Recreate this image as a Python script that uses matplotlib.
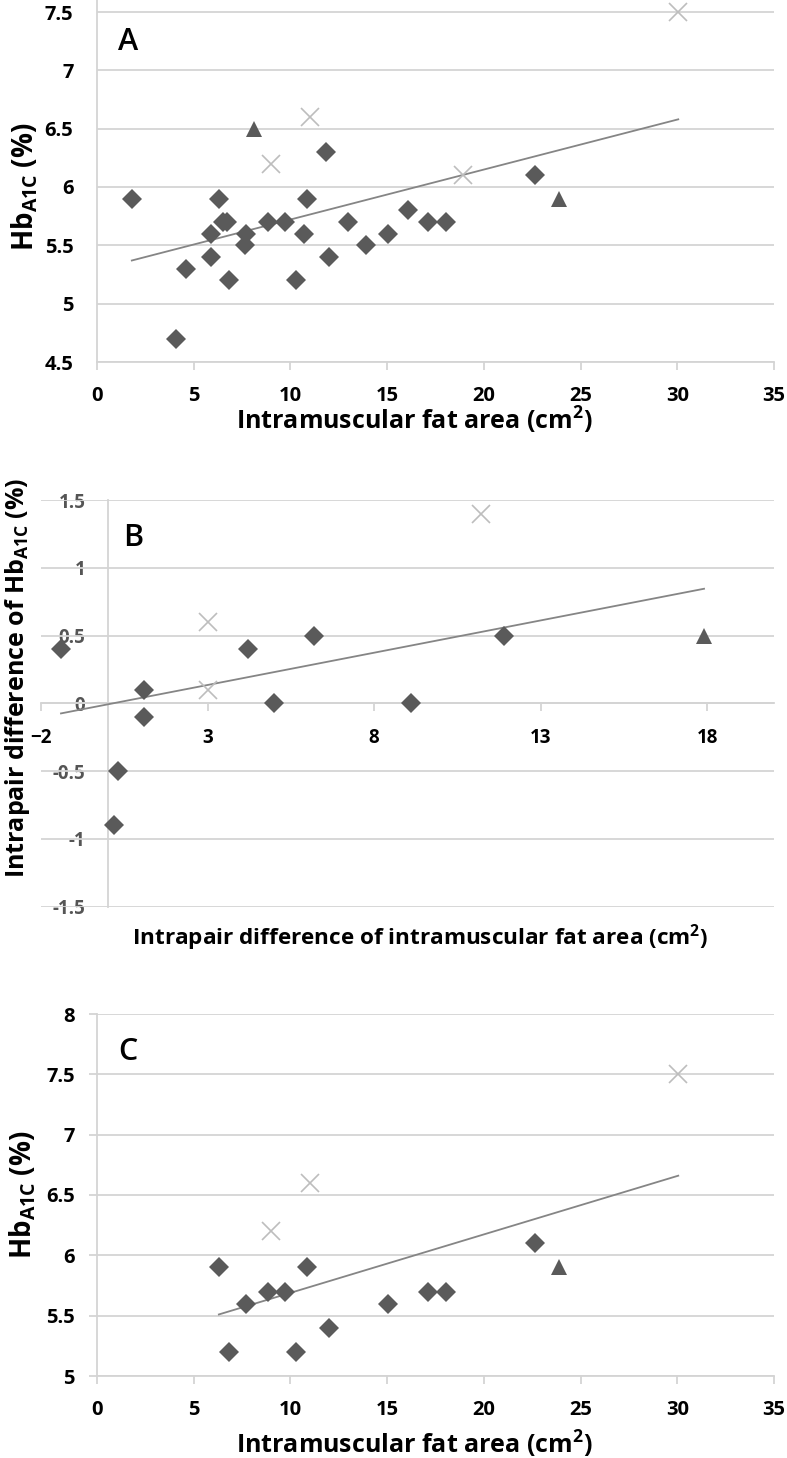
import numpy as np
import matplotlib
matplotlib.use('Agg')
import matplotlib.pyplot as plt

plt.rcParams['font.family'] = ['Open Sans', 'DejaVu Sans']
plt.rcParams['font.weight'] = 'bold'
plt.rcParams['axes.labelweight'] = 'bold'

# ---------------- data ----------------
# Panel A
a_dia_x = [1.8, 4.1, 4.6, 5.9, 5.9, 6.3, 6.5, 6.7, 6.8, 7.7, 7.65, 8.85, 9.7, 10.3, 10.7,
           10.85, 11.85, 12.0, 13.0, 13.9, 15.05, 16.1, 17.1, 18.05, 22.65]
a_dia_y = [5.9, 4.7, 5.3, 5.6, 5.4, 5.9, 5.7, 5.7, 5.2, 5.6, 5.5, 5.7, 5.7, 5.2, 5.6,
           5.9, 6.3, 5.4, 5.7, 5.5, 5.6, 5.8, 5.7, 5.7, 6.1]
a_tri_x = [8.1, 23.9]
a_tri_y = [6.5, 5.9]
a_crs_x = [9.0, 11.0, 18.9, 30.05]
a_crs_y = [6.2, 6.6, 6.1, 7.5]
a_trend_x = [1.8, 30.05]
a_trend_y = [5.37, 6.58]

# Panel B
b_dia_x = [-1.4, 0.2, 0.3, 1.1, 1.1, 4.2, 5.0, 6.2, 9.1, 11.9]
b_dia_y = [0.4, -0.9, -0.5, 0.1, -0.1, 0.4, 0.0, 0.5, 0.0, 0.5]
b_tri_x = [17.9]
b_tri_y = [0.5]
b_crs_x = [3.0, 3.0, 11.2]
b_crs_y = [0.6, 0.1, 1.4]
b_trend_x = [-1.4, 17.9]
b_trend_y = [-0.075, 0.845]

# Panel C
c_dia_x = [6.3, 6.8, 7.7, 8.85, 9.7, 10.3, 10.85, 12.0, 15.05, 17.1, 18.05, 22.65]
c_dia_y = [5.9, 5.2, 5.6, 5.7, 5.7, 5.2, 5.9, 5.4, 5.6, 5.7, 5.7, 6.1]
c_tri_x = [23.9]
c_tri_y = [5.9]
c_crs_x = [9.0, 11.0, 30.05]
c_crs_y = [6.2, 6.6, 7.5]
c_trend_x = [6.3, 30.05]
c_trend_y = [5.51, 6.66]

ac_xticks = [0, 5, 10, 15, 20, 25, 30, 35]
a_yticks = [4.5, 5, 5.5, 6, 6.5, 7, 7.5]
a_yticklabels = ['4.5', '5', '5.5', '6', '6.5', '7', '7.5']
c_yticks = [5, 5.5, 6, 6.5, 7, 7.5, 8]
c_yticklabels = ['5', '5.5', '6', '6.5', '7', '7.5', '8']
b_xticks = [-2, 3, 8, 13, 18]
b_yticks = [-1.5, -1, -0.5, 0, 0.5, 1, 1.5]
b_yticklabels = ['-1.5', '-1', '-0.5', '0', '0.5', '1', '1.5']

# ---------------- style ----------------
DARK = '#5a5a5a'
LIGHT = '#bdbdbd'
GRID = '#d4d4d4'
TREND = '#858585'
TICKFS = 14.5
XLABFS = 18
YLABFS = 20

W, H = 787, 1458
fig = plt.figure(figsize=(W / 100, H / 100), dpi=100)


def px_axes(left, top, right, bottom):
    return fig.add_axes([left / W, 1 - bottom / H, (right - left) / W, (bottom - top) / H])


def draw_points(ax, dx, dy, tx, ty, cx, cy, lx, ly):
    ax.plot(dx, dy, linestyle='none', marker='D', ms=10, color=DARK, mew=0, zorder=4)
    ax.plot(tx, ty, linestyle='none', marker='^', ms=11, color=DARK, mew=0, zorder=4)
    ax.plot(cx, cy, linestyle='none', marker='x', ms=12.5, color=LIGHT, mew=1.2, zorder=4)
    ax.plot(lx, ly, color=TREND, lw=1.3, zorder=3)


def style_common(ax):
    for s in ['top', 'right']:
        ax.spines[s].set_visible(False)
    for s in ['left', 'bottom']:
        ax.spines[s].set_color(GRID)
        ax.spines[s].set_linewidth(1.3)
        ax.spines[s].set_zorder(2.6)


# ---------------- Panel A ----------------
axA = px_axes(97, 0, 774, 362)
draw_points(axA, a_dia_x, a_dia_y, a_tri_x, a_tri_y, a_crs_x, a_crs_y, a_trend_x, a_trend_y)
axA.set_xlim(0, 35)
axA.set_ylim(4.5, 7.5 + 12 / (350 / 3))
axA.set_xticks(ac_xticks)
axA.set_yticks(a_yticks, labels=a_yticklabels)
style_common(axA)
for t in a_yticks:
    axA.axhline(t, color=GRID, lw=1.3, zorder=1)
axA.tick_params(axis='x', direction='out', length=6, width=1.3, color=GRID, pad=11,
                labelsize=TICKFS)
axA.tick_params(axis='y', length=0, pad=17, labelsize=TICKFS)
axA.set_xlabel('Intramuscular fat area (cm$^{\\mathregular{2}}$)', fontsize=XLABFS)
axA.xaxis.set_label_coords(0.468, -0.117)
axA.xaxis.label.set_va('top')
axA.set_ylabel('Hb$_{\\mathregular{A1C}}$ (%)', fontsize=YLABFS)
axA.yaxis.set_label_coords(-0.106, 0.483)
axA.yaxis.label.set_va('center')
axA.text(0.031, 0.862, 'A', transform=axA.transAxes, fontsize=22, va='baseline', ha='left',
         fontweight='semibold')

# ---------------- Panel B ----------------
axB = px_axes(41, 500, 774, 906.5)
draw_points(axB, b_dia_x, b_dia_y, b_tri_x, b_tri_y, b_crs_x, b_crs_y, b_trend_x, b_trend_y)
axB.set_xlim(-2, 20)
axB.set_ylim(-1.5, 1.5)
axB.set_xticks(b_xticks)
axB.set_yticks(b_yticks, labels=b_yticklabels, fontweight='normal')
style_common(axB)
axB.spines['left'].set_position(('data', 0))
axB.spines['bottom'].set_position(('data', 0))
axB.tick_params(axis='x', direction='out', length=6, width=1.3, color=GRID, pad=12,
                labelsize=TICKFS - 1)
axB.tick_params(axis='y', length=0, pad=16, labelsize=TICKFS - 1, labelcolor='#555555')
for t in b_yticks:
    axB.axhline(t, color=GRID, lw=1.3, zorder=2.5)
axB.set_xlabel('Intrapair difference of intramuscular fat area (cm$^{\\mathregular{2}}$)',
               fontsize=XLABFS - 1.8)
axB.xaxis.set_label_coords(0.517, -0.0775)
axB.xaxis.label.set_va('center')
axB.set_ylabel('Intrapair difference of Hb$_{\\mathregular{A1C}}$ (%)', fontsize=18)
axB.yaxis.set_label_coords(-0.0327, 0.562)
axB.yaxis.label.set_va('center')
axB.text(0.112, 0.887, 'B', transform=axB.transAxes, fontsize=22, va='baseline', ha='left',
         fontweight='semibold')

# ---------------- Panel C ----------------
axC = px_axes(97, 1014, 774, 1376)
draw_points(axC, c_dia_x, c_dia_y, c_tri_x, c_tri_y, c_crs_x, c_crs_y, c_trend_x, c_trend_y)
axC.set_xlim(0, 35)
axC.set_ylim(5, 8)
axC.set_xticks(ac_xticks)
axC.set_yticks(c_yticks, labels=c_yticklabels)
style_common(axC)
for t in c_yticks:
    axC.axhline(t, color=GRID, lw=1.3, zorder=1)
axC.tick_params(axis='x', direction='out', length=6, width=1.3, color=GRID, pad=11,
                labelsize=TICKFS)
axC.tick_params(axis='y', direction='out', length=6, width=1.3, color=GRID, pad=10,
                labelsize=TICKFS)
axC.set_xlabel('Intramuscular fat area (cm$^{\\mathregular{2}}$)', fontsize=XLABFS)
axC.xaxis.set_label_coords(0.468, -0.145)
axC.xaxis.label.set_va('top')
axC.set_ylabel('Hb$_{\\mathregular{A1C}}$ (%)', fontsize=YLABFS)
axC.yaxis.set_label_coords(-0.109, 0.5)
axC.yaxis.label.set_va('center')
axC.text(0.031, 0.873, 'C', transform=axC.transAxes, fontsize=22, va='baseline', ha='left',
         fontweight='semibold')

fig.savefig('out.png', dpi=100, facecolor='white')
